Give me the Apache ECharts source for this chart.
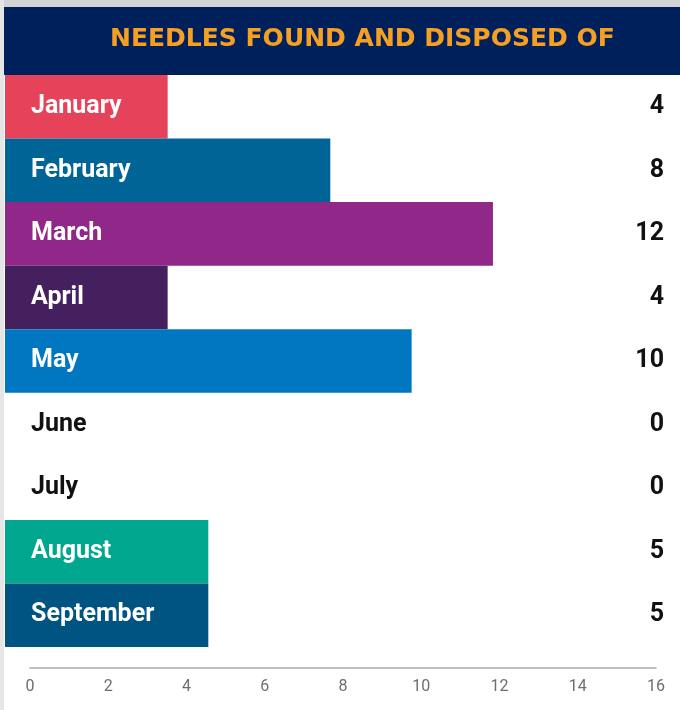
<!DOCTYPE html>
<html>
<head>
<meta charset="utf-8">
<script src="https://cdn.jsdelivr.net/npm/echarts@6/dist/echarts.min.js"></script>
<style>html,body{margin:0;padding:0;background:#fff}#c{width:680px;height:710px}</style>
</head>
<body>
<div id="c"></div>
<script>
var titleText = 'NEEDLES FOUND AND DISPOSED OF';
var months = ['January','February','March','April','May','June','July','August','September'];
var needles = [4, 8, 12, 4, 10, 0, 0, 5, 5];
var barColors = ['#e6435a','#006497','#92278a','#45205e','#0077c0','#ffffff','#ffffff','#00a68d','#005482'];
var tickValues = [0, 2, 4, 6, 8, 10, 12, 14, 16];

var condensed = 'Roboto, sans-serif';
var chart = echarts.init(document.getElementById('c'), null, {renderer:'canvas'});
chart.setOption({
  backgroundColor: '#ffffff',
  animation: false,
  graphic: [
    {type:'rect', shape:{x:0,y:0,width:680,height:7}, style:{fill:'#d4d4d4'}, z:0},
    {type:'rect', shape:{x:0,y:0,width:4,height:710}, style:{fill:'#e6e6e6'}, z:0},
    {type:'rect', shape:{x:4,y:7,width:676,height:68}, style:{fill:'#00205b'}, z:0},
    {type:'text', left:110, top:27, style:{text:titleText, fill:'#f6a023', font:'bold 25px "DejaVu Sans", sans-serif'}, z:5}
  ],
  grid: [
    {left:5, right:0, top:75, bottom:63},
    {left:30, right:24, top:667, height:1}
  ],
  xAxis: [
    {gridIndex:0, type:'value', min:0, max:16.6, show:false},
    {gridIndex:1, type:'value', min:0, max:16, interval:2,
     axisLine:{show:true, lineStyle:{color:'#aaaaaa', width:1.5}},
     axisTick:{show:false}, splitLine:{show:false},
     axisLabel:{color:'#6e6e6e', fontSize:16, fontFamily:'Roboto, sans-serif', margin:11,
       formatter:function(v){ return tickValues.indexOf(v) >= 0 ? String(v) : ''; }}}
  ],
  yAxis: [
    {gridIndex:0, type:'category', inverse:true, data:months, z:10,
     axisLine:{show:false}, axisTick:{show:false},
     axisLabel:{inside:true, margin:26, fontSize:25, fontWeight:'bold', fontFamily:condensed,
       color:function(v, i){ return needles[i] > 0 ? '#ffffff' : '#111111'; }}},
    {gridIndex:0, type:'category', inverse:true, position:'right', data:needles.map(String), z:10,
     axisLine:{show:false}, axisTick:{show:false},
     axisLabel:{inside:true, margin:16, fontSize:25, fontWeight:'bold', fontFamily:condensed, color:'#111111'}},
    {gridIndex:1, type:'category', data:[''], show:false}
  ],
  series: [
    {type:'bar', xAxisIndex:0, yAxisIndex:0, barCategoryGap:'0%',
     data: needles.map(function(v, i){ return {value:v, itemStyle:{color:barColors[i]}}; })}
  ]
});
</script>
</body>
</html>
